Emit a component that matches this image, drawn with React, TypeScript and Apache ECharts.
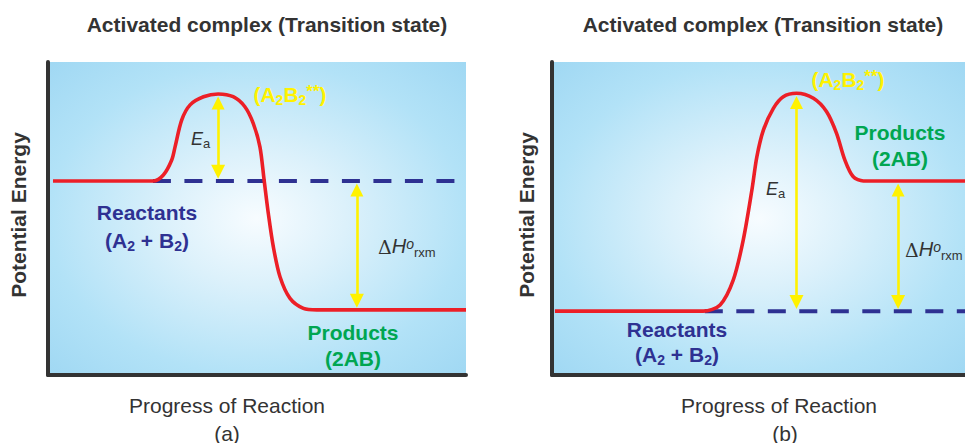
import React, { useEffect, useRef } from 'react';
import * as echarts from 'echarts';

// ---------- texts ----------
const panelTitle = 'Activated complex (Transition state)';
const yAxisTitle = 'Potential Energy';
const xAxisTitle = 'Progress of Reaction';
const panelLetters = ['(a)', '(b)'];

// ---------- panel (a): exothermic, data units (x: 0-100 progress, y: 0-100 energy) ----------
const exoCurveX = [1.2, 25.2, 27.6, 29.6, 30.4, 32.0, 34.0, 37.2, 40.7, 44.3, 47.1, 49.1, 50.7, 51.7, 52.7, 53.9, 55.5, 57.9, 61.1, 64.3, 100];
const exoCurveY = [62, 62, 63.9, 68.7, 72.9, 81.5, 86.3, 88.9, 89.8, 88.9, 85.7, 80.4, 72.9, 62.3, 51.7, 41.0, 31.4, 24.5, 21.3, 20.8, 20.8];
const exoReactantLevel = 62;
const exoProductLevel = 20.8;
const exoPeak = [40.7, 89.8];
const exoDash = [25.1, 98.6];
const exoDeltaHX = 73.9;

// ---------- panel (b): endothermic ----------
const endoCurveX = [0.7, 36.6, 40.7, 43.9, 46.3, 48.4, 49.6, 51.2, 53.6, 56.0, 59.2, 63.3, 66.5, 68.9, 70.9, 72.9, 75.4, 100];
const endoCurveY = [20.4, 20.4, 22.4, 30.4, 43.1, 59.1, 69.7, 78.3, 85.2, 88.9, 90.0, 88.4, 84.1, 77.2, 68.7, 63.4, 62, 62];
const endoReactantLevel = 20.4;
const endoProductLevel = 62;
const endoPeak = [59.2, 90.0];
const endoDash = [37.0, 100];
const endoDeltaHX = 83.8;

const arrowInset = 2.9;

const RED = '#ec1f27';
const NAVY = '#2e3192';
const GREEN = '#00a651';
const YELLOW = '#fff200';
const DARK = '#333333';
const FONT = '"Liberation Sans", Arial, Helvetica, sans-serif';

function zip(xs: number[], ys: number[]) {
  return xs.map((x, i) => [x, ys[i]]);
}

function bg() {
  return new echarts.graphic.RadialGradient(0.5, 0.5, 0.85, [
    { offset: 0, color: '#f7fcff' },
    { offset: 0.25, color: '#dcf1fb' },
    { offset: 0.59, color: '#b2e2f7' },
    { offset: 0.83, color: '#a0d8f3' },
    { offset: 1, color: '#8ed3f3' },
  ]);
}

const boldRich = (fill: string) => ({
  m: { fill, fontSize: 21, fontWeight: 'bold', fontFamily: FONT, lineHeight: 24, padding: [0, 0, 2, 0], verticalAlign: 'bottom' },
  s: { fill, fontSize: 14, fontWeight: 'bold', fontFamily: FONT, lineHeight: 15, verticalAlign: 'bottom' },
  p: { fill, fontSize: 17, fontWeight: 'bold', fontFamily: FONT, lineHeight: 18, verticalAlign: 'top' },
});

function label(x: number, y: number, text: string, rich: any, align = 'center') {
  return {
    type: 'text',
    x,
    y,
    z: 50,
    style: { text, rich, align, verticalAlign: 'middle', font: `bold 21px ${FONT}` },
  };
}

const eaRich = {
  i: { fill: DARK, fontSize: 18, fontStyle: 'italic', fontFamily: FONT, lineHeight: 21, padding: [0, 0, 2, 0], verticalAlign: 'bottom' },
  s: { fill: DARK, fontSize: 13, fontFamily: FONT, lineHeight: 14, verticalAlign: 'bottom' },
};
const dhRich = {
  d: { fill: DARK, fontSize: 19, fontFamily: '"DejaVu Serif", serif', lineHeight: 22, padding: [0, 0, 3, 0], verticalAlign: 'bottom' },
  i: { fill: DARK, fontSize: 20, fontStyle: 'italic', fontFamily: FONT, lineHeight: 22, padding: [0, 0, 3, 0], verticalAlign: 'bottom' },
  o: { fill: DARK, fontSize: 14, fontStyle: 'italic', fontFamily: FONT, lineHeight: 14, verticalAlign: 'top' },
  s: { fill: DARK, fontSize: 13, fontFamily: FONT, lineHeight: 14, verticalAlign: 'bottom' },
};

export default function App() {
  const ref = useRef<HTMLDivElement>(null);
  useEffect(() => {
    if (!ref.current) return;
    const chart = echarts.init(ref.current, null, { renderer: 'svg' });

    const axisLine = { show: true, onZero: false, lineStyle: { color: DARK, width: 4 } };
    const xBase = {
      type: 'value', min: 0, max: 100, axisLine, axisTick: { show: false },
      axisLabel: { show: false }, splitLine: { show: false },
    };
    const yBase = {
      type: 'value', min: 0, max: 100, axisLine, axisTick: { show: false },
      axisLabel: { show: false }, splitLine: { show: false },
    };

    const curve = (idx: number, xs: number[], ys: number[]) => ({
      type: 'line', xAxisIndex: idx, yAxisIndex: idx, data: zip(xs, ys), smooth: 0.3,
      showSymbol: false, symbol: 'none', z: 5,
      lineStyle: { color: RED, width: 3.6 },
    });
    const dash = (idx: number, range: number[], level: number) => ({
      type: 'line', xAxisIndex: idx, yAxisIndex: idx, data: [[range[0], level], [range[1], level]],
      showSymbol: false, symbol: 'none', z: 4,
      lineStyle: { color: NAVY, width: 4, type: [18, 13.5], cap: 'butt' },
    });
    const arrows = (idx: number, segs: number[][][]) => ({
      type: 'lines', coordinateSystem: 'cartesian2d', xAxisIndex: idx, yAxisIndex: idx, z: 6,
      symbol: ['triangle', 'triangle'], symbolSize: [13, 14],
      lineStyle: { color: YELLOW, width: 2.6, opacity: 1 },
      itemStyle: { color: YELLOW },
      data: segs.map((c) => ({ coords: c })),
    });

    const exoHigh = Math.max(exoReactantLevel, exoProductLevel);
    const exoLow = Math.min(exoReactantLevel, exoProductLevel);
    const endoHigh = Math.max(endoReactantLevel, endoProductLevel);
    const endoLow = Math.min(endoReactantLevel, endoProductLevel);

    chart.setOption({
      animation: false,
      grid: [
        { left: 48, right: 499, top: 62, bottom: 68, show: true, borderWidth: 0, backgroundColor: bg() },
        { left: 552, right: 0, top: 62, bottom: 68, show: true, borderWidth: 0, backgroundColor: bg() },
      ],
      xAxis: [{ ...xBase, gridIndex: 0 }, { ...xBase, gridIndex: 1 }],
      yAxis: [{ ...yBase, gridIndex: 0 }, { ...yBase, gridIndex: 1 }],
      series: [
        dash(0, exoDash, exoReactantLevel),
        curve(0, exoCurveX, exoCurveY),
        arrows(0, [
          [[exoPeak[0], exoPeak[1] - arrowInset], [exoPeak[0], exoReactantLevel + arrowInset]],
          [[exoDeltaHX, exoHigh - arrowInset], [exoDeltaHX, exoLow + arrowInset]],
        ]),
        dash(1, endoDash, endoReactantLevel),
        curve(1, endoCurveX, endoCurveY),
        arrows(1, [
          [[endoPeak[0], endoPeak[1] - arrowInset], [endoPeak[0], endoReactantLevel + arrowInset]],
          [[endoDeltaHX, endoHigh - arrowInset], [endoDeltaHX, endoLow + arrowInset]],
        ]),
      ],
      graphic: [
        // titles
        { type: 'text', x: 267, y: 24, style: { text: panelTitle, fill: DARK, font: `bold 21px ${FONT}`, align: 'center', verticalAlign: 'middle' } },
        { type: 'text', x: 763, y: 24, style: { text: panelTitle, fill: DARK, font: `bold 21px ${FONT}`, align: 'center', verticalAlign: 'middle' } },
        // y axis titles
        { type: 'text', x: 18, y: 215, rotation: Math.PI / 2, style: { text: yAxisTitle, fill: DARK, font: `bold 21px ${FONT}`, align: 'center', verticalAlign: 'middle' } },
        { type: 'text', x: 526, y: 215, rotation: Math.PI / 2, style: { text: yAxisTitle, fill: DARK, font: `bold 21px ${FONT}`, align: 'center', verticalAlign: 'middle' } },
        // x axis titles
        { type: 'text', x: 227, y: 405, style: { text: xAxisTitle, fill: DARK, font: `21px ${FONT}`, align: 'center', verticalAlign: 'middle' } },
        { type: 'text', x: 779, y: 405, style: { text: xAxisTitle, fill: DARK, font: `21px ${FONT}`, align: 'center', verticalAlign: 'middle' } },
        { type: 'text', x: 227, y: 433, style: { text: panelLetters[0], fill: DARK, font: `21px ${FONT}`, align: 'center', verticalAlign: 'middle' } },
        { type: 'text', x: 785, y: 433, style: { text: panelLetters[1], fill: DARK, font: `21px ${FONT}`, align: 'center', verticalAlign: 'middle' } },
        // panel (a) labels
        label(290, 95, '{m|(A}{s|2}{m|B}{s|2}{p|**}{m|)}', boldRich(YELLOW)),
        label(147, 213, '{m|Reactants}', boldRich(NAVY)),
        label(147, 241, '{m|(A}{s|2}{m| + B}{s|2}{m|)}', boldRich(NAVY)),
        label(353, 333, '{m|Products}', boldRich(GREEN)),
        label(353, 359, '{m|(2AB)}', boldRich(GREEN)),
        { type: 'text', x: 191, y: 139, z: 50, style: { text: '{i|E}{s|a}', rich: eaRich, align: 'left', verticalAlign: 'middle' } },
        { type: 'text', x: 378, y: 248, z: 50, style: { text: '{d|Δ}{i|H}{o|o}{s|rxm}', rich: dhRich, align: 'left', verticalAlign: 'middle' } },
        // panel (b) labels
        label(848, 80, '{m|(A}{s|2}{m|B}{s|2}{p|**}{m|)}', boldRich(YELLOW)),
        label(900, 133, '{m|Products}', boldRich(GREEN)),
        label(900, 159, '{m|(2AB)}', boldRich(GREEN)),
        label(677, 330, '{m|Reactants}', boldRich(NAVY)),
        label(677, 355, '{m|(A}{s|2}{m| + B}{s|2}{m|)}', boldRich(NAVY)),
        { type: 'text', x: 766, y: 189, z: 50, style: { text: '{i|E}{s|a}', rich: eaRich, align: 'left', verticalAlign: 'middle' } },
        { type: 'text', x: 905, y: 251, z: 50, style: { text: '{d|Δ}{i|H}{o|o}{s|rxm}', rich: dhRich, align: 'left', verticalAlign: 'middle' } },
      ],
    });
    return () => chart.dispose();
  }, []);
  return <div ref={ref} style={{ width: 965, height: 443, position: 'absolute', left: 0, top: 0 }} />;
}
